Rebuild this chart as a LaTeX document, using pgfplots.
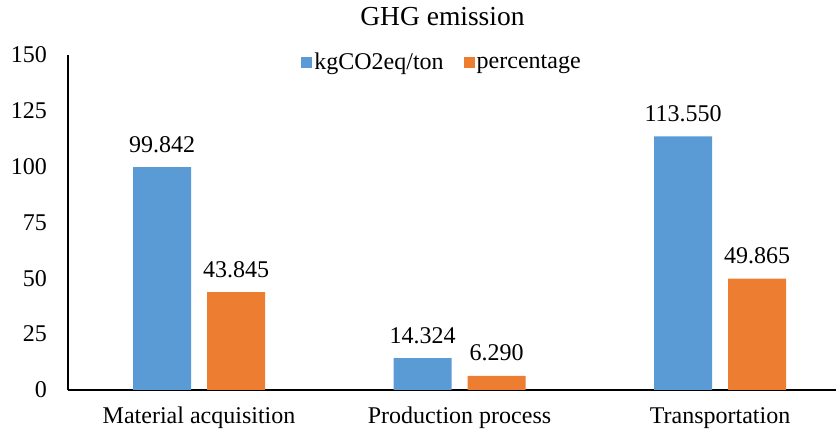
\documentclass[border=0pt]{standalone}
\usepackage{fontspec}
\setmainfont{Liberation Serif}
\usepackage{pgfplots}
\pgfplotsset{compat=1.18}
\definecolor{cblue}{HTML}{5B9BD5}
\definecolor{corange}{HTML}{ED7D31}
\newcommand{\fs}{\fontsize{24}{28.8}\selectfont}
\begin{document}
\begin{tikzpicture}[font=\fs]
\path[use as bounding box] (-68pt,-40pt) rectangle (768pt,390pt);
\begin{axis}[
  scale only axis,
  width=768pt, height=335pt,
  at={(0pt,0pt)}, anchor=south west,
  ybar=16pt, bar width=58pt,
  xmin=-0.503, xmax=2.445,
  ymin=0, ymax=150,
  ytick={0,25,50,75,100,125,150},
  xtick=data,
  xticklabels={Material acquisition, Production process, Transportation},
  major tick length=0pt,
  axis x line*=bottom, axis y line*=left,
  axis line style={-, line width=1.2pt, black},
  /pgf/number format/assume math mode=true,
  every tick label/.append style={font=\fs},
  yticklabel style={anchor=east, inner sep=0pt, xshift=-21pt},
  xticklabel style={anchor=base, inner sep=0pt, yshift=-34pt},
  title={GHG emission},
  title style={at={(rel axis cs:0.4876,1.0687)}, anchor=base, inner sep=0pt,
    font=\fontsize{27.5}{33}\selectfont},
  nodes near coords,
  nodes near coords style={font=\fs, anchor=base, inner sep=0pt, yshift=15pt,
    /pgf/number format/.cd, fixed, fixed zerofill, precision=3, assume math mode=true},
  legend columns=-1,
  legend style={at={(0.487,0.979)}, anchor=center, draw=none, fill=none, font=\fs,
    /tikz/every even column/.append style={column sep=18pt},
    /tikz/every odd column/.append style={column sep=0pt}},
  legend image code/.code={\fill[#1] (-1pt,-5.5pt) rectangle (10pt,5.5pt);},
  clip=false,
]
\addplot[fill=cblue, draw=none] coordinates {(0,99.842) (1,14.324) (2,113.550)};
\addplot[fill=corange, draw=none] coordinates {(0,43.845) (1,6.290) (2,49.865)};
\legend{kgCO2eq/ton, percentage}
\end{axis}
\end{tikzpicture}
\end{document}
